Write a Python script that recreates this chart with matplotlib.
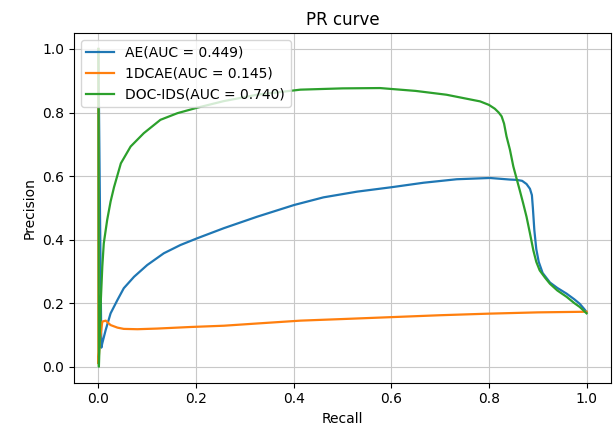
import matplotlib.pyplot as plt

# PR curve points (recall, precision)
ae_recall = [0.0, 0.006, 0.008, 0.015, 0.025, 0.039, 0.052, 0.073, 0.1, 0.134, 0.168, 0.202, 0.257,
             0.325, 0.401, 0.461, 0.53, 0.601, 0.666, 0.734, 0.802, 0.843, 0.857, 0.868, 0.877,
             0.884, 0.888, 0.89, 0.893, 0.897, 0.902, 0.91, 0.925, 0.94, 0.959, 0.975, 0.986,
             0.995, 1.0]
ae_precision = [1.0, 0.06, 0.074, 0.116, 0.168, 0.21, 0.247, 0.283, 0.32, 0.357, 0.383, 0.404, 0.436,
                0.472, 0.509, 0.533, 0.551, 0.565, 0.579, 0.59, 0.594, 0.589, 0.588, 0.585, 0.575,
                0.56, 0.54, 0.5, 0.43, 0.37, 0.33, 0.295, 0.265, 0.248, 0.23, 0.212, 0.198,
                0.182, 0.172]

cae_recall = [0.0, 0.0, 0.003, 0.008, 0.015, 0.025, 0.039, 0.052, 0.08, 0.12, 0.189, 0.257, 0.325,
              0.414, 0.5, 0.6, 0.7, 0.8, 0.9, 1.0]
cae_precision = [1.0, 0.01, 0.084, 0.142, 0.145, 0.131, 0.123, 0.119, 0.118, 0.12, 0.125, 0.129, 0.136,
                 0.145, 0.15, 0.156, 0.162, 0.167, 0.171, 0.173]

doc_recall = [0.0, 0.001, 0.002, 0.005, 0.008, 0.011, 0.018, 0.025, 0.032, 0.046, 0.066, 0.093,
              0.127, 0.162, 0.202, 0.257, 0.325, 0.414, 0.5, 0.577, 0.65, 0.713, 0.782, 0.8,
              0.812, 0.82, 0.826, 0.831, 0.836, 0.843, 0.85, 0.857, 0.863, 0.87, 0.877, 0.884,
              0.891, 0.897, 0.904, 0.915, 0.925, 0.94, 0.959, 0.975, 0.986, 1.0]
doc_precision = [1.0, 0.0, 0.05, 0.21, 0.315, 0.388, 0.462, 0.52, 0.565, 0.64, 0.693, 0.735,
                 0.777, 0.798, 0.815, 0.836, 0.856, 0.872, 0.876, 0.877, 0.868, 0.856, 0.835, 0.824,
                 0.812, 0.8, 0.788, 0.765, 0.725, 0.683, 0.63, 0.59, 0.556, 0.515, 0.472, 0.42,
                 0.366, 0.33, 0.303, 0.28, 0.261, 0.24, 0.22, 0.2, 0.188, 0.168]

labels = ["AE(AUC = 0.449)", "1DCAE(AUC = 0.145)", "DOC-IDS(AUC = 0.740)"]
colors = ['#1f77b4', '#ff7f0e', '#2ca02c']

fig = plt.figure(figsize=(6.13, 4.36), dpi=100)
ax = fig.add_axes([0.1207, 0.1225, 0.876, 0.8016])

ax.plot(ae_recall, ae_precision, label=labels[0], color=colors[0], linewidth=1.6)
ax.plot(cae_recall, cae_precision, label=labels[1], color=colors[1], linewidth=1.6)
ax.plot(doc_recall, doc_precision, label=labels[2], color=colors[2], linewidth=1.6)

ax.set_xlim(-0.05, 1.05)
ax.set_ylim(-0.05, 1.05)
ax.set_xlabel('Recall')
ax.set_ylabel('Precision')
ax.set_title('PR curve')
ax.grid(True, color='#c8c8c8')
ax.legend(loc='upper left')

plt.savefig('out.png', dpi=100)
plt.close()
